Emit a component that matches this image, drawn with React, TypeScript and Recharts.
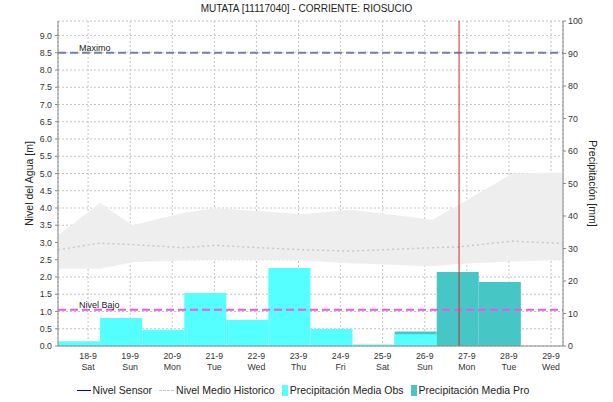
import React from 'react';
import { ComposedChart, Bar, Area, Line, XAxis, YAxis, CartesianGrid, ReferenceLine } from 'recharts';

// daily precipitation (mm) per day slot
const dates = ['18-9', '19-9', '20-9', '21-9', '22-9', '23-9', '24-9', '25-9', '26-9', '27-9', '28-9', '29-9'];
const weekdays = ['Sat', 'Sun', 'Mon', 'Tue', 'Wed', 'Thu', 'Fri', 'Sat', 'Sun', 'Mon', 'Tue', 'Wed'];
const precipObs = [1.5, 8.6, 5.0, 16.3, 8.0, 24.0, 5.2, 0.5, 3.6, null, null, null];
const precipPro = [null, null, null, null, null, null, null, null, 4.5, 22.8, 19.7, null];

// historic band (m), x in day-slot units
const histX = [0, 1, 1.76, 3, 3.75, 4.75, 5.8, 6.95, 8.9, 9.5, 10.8, 12];
const histLow = [2.24, 2.24, 2.43, 2.48, 2.5, 2.5, 2.48, 2.4, 2.31, 2.38, 2.45, 2.5];
const histHigh = [3.2, 4.15, 3.5, 3.86, 3.99, 3.91, 3.82, 3.95, 3.66, 4.08, 5.0, 5.03];
const histMean = [2.79, 2.98, 2.94, 2.85, 2.92, 2.85, 2.79, 2.75, 2.85, 2.87, 3.04, 2.97];

const levelTicks = [0, 0.5, 1, 1.5, 2, 2.5, 3, 3.5, 4, 4.5, 5, 5.5, 6, 6.5, 7, 7.5, 8, 8.5, 9];
const precipTicks = [0, 10, 20, 30, 40, 50, 60, 70, 80, 90, 100];

const MAXIMO = 8.5;
const NIVEL_BAJO = 1.05;
const NOW_X = 9.53;
const TICK_OFFSET = 0.715; // day ticks sit at midnight inside each slot

const barData = dates.map((d, i) => ({ x: i + 0.5, obs: precipObs[i], pro: precipPro[i] }));
const histData = histX.map((x, i) => ({ x, band: [histLow[i], histHigh[i]], mean: histMean[i] }));
const dayTicks = dates.map((_, i) => i + TICK_OFFSET);

const FONT = '"Liberation Sans", Arial, sans-serif';
const tickStyle = { fontSize: 8.8, fill: '#333', fontFamily: FONT };

const DayTick = (props: any) => {
  const { x, y, payload } = props;
  const i = Math.round(payload.value - TICK_OFFSET);
  return (
    <g>
      <text x={x} y={y + 13} textAnchor="middle" style={tickStyle}>{dates[i]}</text>
      <text x={x} y={y + 24} textAnchor="middle" style={tickStyle}>{weekdays[i]}</text>
    </g>
  );
};

const refLabel = (text: string) => (p: any) => (
  <text x={p.viewBox.x + 21} y={p.viewBox.y - 2} style={{ fontSize: 9, fill: '#222', fontFamily: FONT }}>{text}</text>
);

const LegendItem = ({ mark, text }: { mark: React.ReactNode; text: string }) => (
  <div style={{ display: 'flex', alignItems: 'center', marginRight: 7 }}>
    {mark}
    <span style={{ marginLeft: 2 }}>{text}</span>
  </div>
);

export default function App() {
  return (
    <div style={{ position: 'absolute', left: 0, top: 0, width: 613, height: 402, background: '#fff', fontFamily: FONT }}>
      <div style={{ position: 'absolute', top: 3, width: 613, textAlign: 'center', fontSize: 10, color: '#222' }}>
        MUTATA [11117040] - CORRIENTE: RIOSUCIO
      </div>
      <ComposedChart width={613} height={402} data={barData} margin={{ top: 21, right: 0, bottom: 26, left: 0 }}>
        <CartesianGrid xAxisId="obs" yAxisId="left" stroke="#c4c4c4" strokeDasharray="2 2" />
        <XAxis
          xAxisId="obs"
          dataKey="x"
          type="number"
          domain={[0, 12]}
          ticks={dayTicks}
          interval={0}
          tick={<DayTick />}
          tickSize={0}
          tickMargin={0}
          height={30}
          stroke="#888"
        />
        <XAxis xAxisId="pro" dataKey="x" type="number" domain={[0, 12]} height={0} hide />
        <XAxis xAxisId="hist" dataKey="x" type="number" domain={[0, 12]} height={0} hide />
        <YAxis
          yAxisId="left"
          type="number"
          domain={[0, 9.42]}
          ticks={levelTicks}
          interval={0}
          tickFormatter={(v: number) => v.toFixed(1)}
          tick={tickStyle}
          tickSize={3}
          tickMargin={3}
          width={58}
          stroke="#888"
          label={{
            content: (p: any) => {
              const cx = p.viewBox.x + 30;
              const cy = p.viewBox.y + p.viewBox.height / 2;
              return (
                <text x={cx} y={cy} transform={`rotate(-90 ${cx} ${cy})`} textAnchor="middle" dominantBaseline="middle" style={{ fontSize: 10.5, fill: '#222', fontFamily: FONT }}>
                  Nivel del Agua [m]
                </text>
              );
            },
          }}
        />
        <YAxis
          yAxisId="right"
          orientation="right"
          type="number"
          domain={[0, 100]}
          ticks={precipTicks}
          interval={0}
          tick={tickStyle}
          tickSize={3}
          tickMargin={2}
          width={50}
          stroke="#888"
          label={{
            content: (p: any) => {
              const cx = p.viewBox.x + 29;
              const cy = p.viewBox.y + p.viewBox.height / 2;
              return (
                <text x={cx} y={cy} transform={`rotate(90 ${cx} ${cy})`} textAnchor="middle" dominantBaseline="middle" style={{ fontSize: 10.5, fill: '#222', fontFamily: FONT }}>
                  Precipitación [mm]
                </text>
              );
            },
          }}
        />
        <Area
          data={histData}
          xAxisId="hist"
          yAxisId="left"
          dataKey="band"
          type="linear"
          stroke="none"
          fill="#eeeeee"
          fillOpacity={1}
          isAnimationActive={false}
        />
        <Line
          data={histData}
          xAxisId="hist"
          yAxisId="left"
          dataKey="mean"
          type="linear"
          stroke="#c8c8c8"
          strokeWidth={1.5}
          strokeDasharray="2 3"
          dot={false}
          isAnimationActive={false}
        />
        <Bar xAxisId="pro" yAxisId="right" dataKey="pro" barSize={42} fill="#47c6c6" isAnimationActive={false} />
        <Bar xAxisId="obs" yAxisId="right" dataKey="obs" barSize={42} fill="#55ffff" isAnimationActive={false} />
        <ReferenceLine yAxisId="left" xAxisId="obs" y={MAXIMO} stroke="#7080a8" strokeWidth={2} strokeDasharray="8 4" label={{ content: refLabel('Maximo') }} />
        <ReferenceLine yAxisId="left" xAxisId="obs" y={NIVEL_BAJO} stroke="#ee55ee" strokeWidth={2} strokeDasharray="8 4" label={{ content: refLabel('Nivel Bajo') }} />
        <ReferenceLine yAxisId="left" xAxisId="hist" x={NOW_X} stroke="#d02a2a" strokeWidth={1} />
      </ComposedChart>
      <div style={{ position: 'absolute', top: 384, width: 613, display: 'flex', justifyContent: 'center', fontSize: 10.5, color: '#222' }}>
        <LegendItem mark={<span style={{ width: 14, height: 0, borderTop: '1px solid #0000cc' }} />} text="Nivel Sensor" />
        <LegendItem mark={<span style={{ width: 15, height: 0, borderTop: '1.5px dashed #c8c8c8' }} />} text="Nivel Medio Historico" />
        <LegendItem mark={<span style={{ width: 6, height: 11, background: '#55ffff' }} />} text="Precipitación Media Obs" />
        <LegendItem mark={<span style={{ width: 6, height: 11, background: '#47c6c6' }} />} text="Precipitación Media Pro" />
      </div>
    </div>
  );
}
